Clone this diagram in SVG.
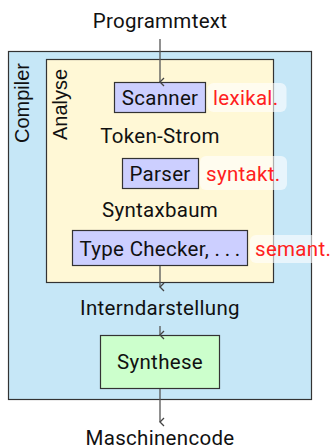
<svg xmlns="http://www.w3.org/2000/svg" width="330" height="448" viewBox="0 0 330 448">
  <style>
    .t { font-family: Roboto, "Liberation Sans", sans-serif; font-size: 20.5px; letter-spacing: 0.3px; fill: #111; text-anchor: middle; }
    .side { font-family: "Liberation Sans", Arial, sans-serif; font-size: 20px; fill: #111; }
    .note { font-family: Roboto, "Liberation Sans", sans-serif; font-size: 20.5px; letter-spacing: 0.3px; fill: #ff2020; }
    .note-bg { fill: #ffffff; fill-opacity: 0.6; }
    .box { stroke: #333; stroke-width: 1.2; }
    .phase { fill: #cccfff; }
    .edge { stroke: #555; stroke-width: 1.3; fill: none; marker-end: url(#arr); }
  </style>
  <defs>
    <marker id="arr" viewBox="0 0 10 10" refX="5" refY="9" markerWidth="10" markerHeight="10" markerUnits="userSpaceOnUse" orient="auto-start-reverse">
      <path d="M1,5 L5,9 L9,5" fill="none" stroke="#444" stroke-width="1.3"/>
    </marker>
  </defs>

  <g id="compiler">
    <rect class="box" x="8.5" y="51.5" width="303" height="348" fill="#c6e7f7"/>
    <text class="side" transform="translate(29,143) rotate(-90)">Compiler</text>
  </g>

  <g id="analyse">
    <rect class="box" x="46.5" y="59.5" width="227" height="223" fill="#fff8d6"/>
    <text class="side" transform="translate(67,140) rotate(-90)">Analyse</text>
  </g>

  <g id="programmtext">
    <text class="t" x="160" y="27.5">Programmtext</text>
  </g>

  <g id="scanner">
    <rect class="box phase" x="114.5" y="82.5" width="91" height="30"/>
    <text class="t" x="160" y="104.5">Scanner</text>
    <rect class="note-bg" x="207.5" y="83" width="79" height="29" rx="6"/>
    <text class="note" x="213" y="104.5">lexikal.</text>
  </g>

  <g id="token-strom">
    <text class="t" x="160" y="143">Token-Strom</text>
  </g>

  <g id="parser">
    <rect class="box phase" x="122.5" y="158.5" width="76" height="30"/>
    <text class="t" x="160" y="180.5">Parser</text>
    <rect class="note-bg" x="200" y="156" width="87" height="34" rx="6"/>
    <text class="note" x="206" y="180.5">syntakt.</text>
  </g>

  <g id="syntaxbaum">
    <text class="t" x="160" y="217">Syntaxbaum</text>
  </g>

  <g id="typechecker">
    <rect class="box phase" x="72.5" y="230.5" width="175" height="35"/>
    <text class="t" x="160" y="255.5">Type Checker, .&#8201;.&#8201;.</text>
    <rect class="note-bg" x="250" y="235" width="86" height="28" rx="6"/>
    <text class="note" x="255" y="255.5">semant.</text>
  </g>

  <g id="interndarstellung">
    <text class="t" x="160" y="315">Interndarstellung</text>
  </g>

  <g id="synthese">
    <rect class="box" x="100.5" y="335.5" width="119" height="53" fill="#ccffcc"/>
    <text class="t" x="160" y="368.5">Synthese</text>
  </g>

  <g id="maschinencode">
    <text class="t" x="160" y="444.5">Maschinencode</text>
  </g>

  <g id="connectors">
    <line class="edge" x1="160" y1="39" x2="160" y2="82"/>
    <line class="edge" x1="160" y1="266" x2="160" y2="287"/>
    <line class="edge" x1="160" y1="326" x2="160" y2="335"/>
    <line class="edge" x1="160" y1="389" x2="160" y2="422"/>
  </g>
</svg>
